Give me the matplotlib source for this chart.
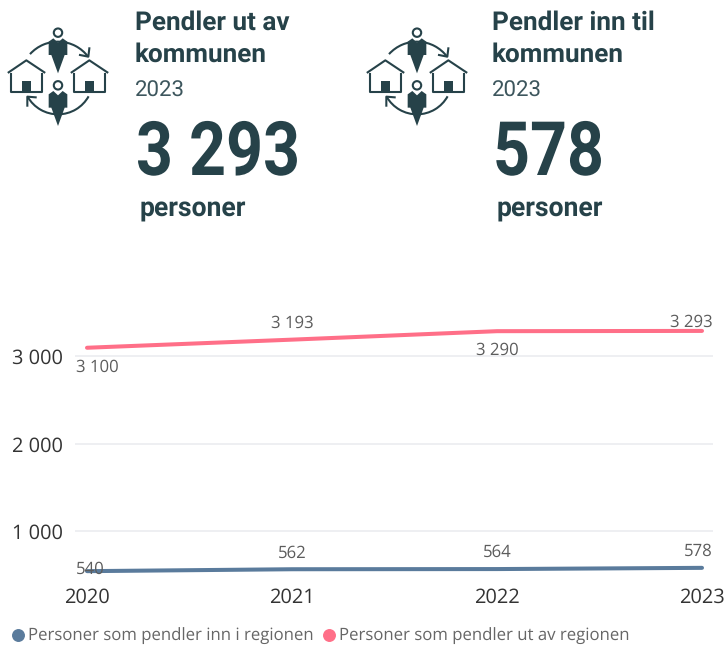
import matplotlib

matplotlib.use('Agg')
import matplotlib.patheffects as pe
import matplotlib.pyplot as plt
from matplotlib.lines import Line2D
from matplotlib.patches import Arc, Circle, Polygon, Rectangle
from matplotlib.transforms import Affine2D

plt.rcParams['text.hinting'] = 'no_hinting'

years = [2020, 2021, 2022, 2023]
pendler_inn = [540, 562, 564, 578]
pendler_ut = [3100, 3193, 3290, 3293]
y_ticks = [1000, 2000, 3000]
legend_labels = ['Personer som pendler inn i regionen', 'Personer som pendler ut av regionen']

# label offsets from the point, in pixels (x, y, horizontal alignment)
inn_offsets = [(-11, -3, 'left'), (0, 11, 'center'), (0, 12, 'center'), (11, 12, 'right')]
ut_offsets = [(-11, -24, 'left'), (0, 12, 'center'), (0, -24, 'center'), (11, 4, 'right')]

DARK = '#264249'
PINK = '#FF6F88'
BLUE = '#5A7B9C'
W, H = 726, 646


class SqueezeX(pe.AbstractPathEffect):
    """Narrow a text horizontally, there is no condensed Roboto to use"""

    def __init__(self, factor, x0):
        super().__init__()
        self.factor = factor
        self.x0 = x0

    def draw_path(self, renderer, gc, tpath, affine, rgbFace=None):
        squeeze = Affine2D().translate(-self.x0, 0).scale(self.factor, 1).translate(self.x0, 0)
        renderer.draw_path(gc, tpath, affine + squeeze, rgbFace)


def draw_icon(ax, dx):
    # coordinates were read from a 3x zoom, so divide by 3
    def p(x, y):
        return (x / 3 + dx, y / 3)

    lw = 1.5
    for oy in (0, 158):
        ax.add_patch(Circle(p(174, 98 + oy), 4.2, fc='none', ec=DARK, lw=lw))
        body = [(146, 125), (160, 115), (174, 128), (188, 115), (202, 125), (202, 165),
                (194, 165), (174, 220), (154, 165), (146, 165)]
        ax.add_patch(Polygon([p(x, y + oy) for x, y in body], fc=DARK, ec='none'))
    for ox in (0, 189):
        house = [(32, 222), (32, 276), (127, 276), (127, 222)]
        roof = [(26, 217), (79, 181), (133, 217)]
        ax.plot(*zip(*[p(x + ox, y) for x, y in house]), color=DARK, lw=lw)
        ax.plot(*zip(*[p(x + ox, y) for x, y in roof]), color=DARK, lw=lw)
        ax.add_patch(Rectangle(p(67 + ox, 243), 26 / 3, 33 / 3, fc=DARK, ec='none'))
    # y axis is inverted here so the arc angles run clockwise on screen
    ax.add_patch(Arc(p(174, 238), 226 / 3, 226 / 3, theta1=222, theta2=323, color=DARK, lw=lw))
    ax.add_patch(Arc(p(174, 238), 210 / 3, 210 / 3, theta1=29, theta2=150, color=DARK, lw=lw))
    ax.plot(*zip(*[p(240, 165), p(265, 170), p(268, 145)]), color=DARK, lw=lw)
    ax.plot(*zip(*[p(107, 292), p(82, 290), p(82, 317)]), color=DARK, lw=lw)


def draw_header(ax, x, title, number, number_scale):
    ax.text(x, 30.2, title[0], family='Roboto', weight='bold', fontsize=18.85, color=DARK)
    ax.text(x, 61.7, title[1], family='Roboto', weight='bold', fontsize=18.85, color=DARK)
    ax.text(x, 96.7, '2023', family='Roboto', fontsize=16, color='#3D565D')
    ax.text(x + 1, 175, number, family='Roboto', weight='bold', fontsize=54, color=DARK,
            path_effects=[SqueezeX(number_scale, x + 1)])
    ax.text(x + 5, 217, 'personer', family='Roboto', weight='bold', fontsize=19.1, color=DARK)


def fmt(v):
    return '{:,}'.format(v).replace(',', ' ')


fig = plt.figure(figsize=(W / 100, H / 100), dpi=100, facecolor='w')

# line chart, axes box is placed in pixels
left, right, top, bottom = 75, 713, 320, 577
ax = fig.add_axes([left / W, 1 - bottom / H, (right - left) / W, (bottom - top) / H])
ax.plot(years, pendler_inn, color=BLUE, lw=2.9, solid_capstyle='round', label=legend_labels[0], zorder=3)
ax.plot(years, pendler_ut, color=PINK, lw=2.9, solid_capstyle='round', label=legend_labels[1], zorder=3)
ax.set_xlim(2020 - 12 / 205, 2023 + 11 / 205)
ax.set_ylim(1000 - (bottom - 531) / 0.0873, 3000 + (356.5 - top) / 0.0873)
for s in ax.spines.values():
    s.set_visible(False)
ax.set_xticks(years)
ax.set_yticks(y_ticks)
ax.set_yticklabels([fmt(v) for v in y_ticks])
ax.tick_params(length=0, labelsize=14.4, labelcolor='#333333')
ax.tick_params(axis='x', pad=7.6)
ax.tick_params(axis='y', pad=8.5)
for lab in ax.get_xticklabels() + ax.get_yticklabels():
    lab.set_family('Open Sans')
ax.grid(axis='y', color='#E9EBEF', lw=1.1)
ax.set_axisbelow(True)

for vals, offsets in ((pendler_inn, inn_offsets), (pendler_ut, ut_offsets)):
    for yr, v, (ox, oy, ha) in zip(years, vals, offsets):
        ax.annotate(fmt(v), xy=(yr, v), xytext=(ox, oy), textcoords='offset pixels', ha=ha, va='baseline',
                    family='Open Sans', fontsize=12.1, color='#5C5C5C', annotation_clip=False, zorder=4)

handles = [Line2D([], [], ls='', marker='o', ms=8.3, color=c) for c in (BLUE, PINK)]
fig.legend(handles, legend_labels, loc='lower left', bbox_to_anchor=(4.6 / W, 1 - 652 / H), ncols=2, frameon=False,
           prop={'family': 'Open Sans', 'size': 12.1}, labelcolor='#666666', handlelength=0.8, handletextpad=0.2,
           columnspacing=0.48, borderaxespad=0)

# header with icons, drawn in pixel coordinates on a full figure axes
top_ax = fig.add_axes([0, 0, 1, 1], facecolor='none')
top_ax.set_xlim(0, W)
top_ax.set_ylim(H, 0)
top_ax.axis('off')
draw_icon(top_ax, 0)
draw_icon(top_ax, 359)
draw_header(top_ax, 135, ['Pendler ut av', 'kommunen'], '3 293', 0.86)
draw_header(top_ax, 492, ['Pendler inn til', 'kommunen'], '578', 0.86)

fig.savefig('out.png', dpi=100, facecolor='w')
plt.close(fig)
